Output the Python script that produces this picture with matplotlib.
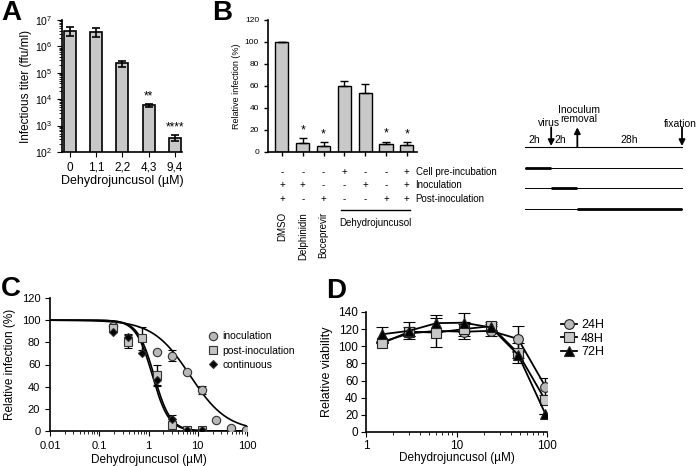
import matplotlib
matplotlib.use("Agg")
import matplotlib.pyplot as plt
import numpy as np
from matplotlib.ticker import LogLocator, NullFormatter
from matplotlib.lines import Line2D

plt.rcParams['font.family'] = ['Liberation Sans', 'DejaVu Sans']
plt.rcParams['axes.linewidth'] = 1.2
plt.rcParams['xtick.direction'] = 'out'
plt.rcParams['ytick.direction'] = 'out'

# ---- panel A : infectious titer
a_labels = ['0', '1,1', '2,2', '4,3', '9,4']
a_titer = [4.0e6, 3.5e6, 2.3e5, 5.8e3, 350]
a_err = [1.5e6, 1.3e6, 6.0e4, 9.0e2, 100]
a_stars = ['', '', '', '**', '****']

# ---- panel B : relative infection
b_names = ['DMSO', 'Delphinidin', 'Boceprevir', '', '', '', '']
b_vals = [100, 8, 5.5, 60, 53.5, 7, 6.5]
b_err = [0, 4.5, 3.5, 4.5, 8.5, 2.5, 2.5]
b_stars = ['', '*', '*', '', '', '*', '*']
b_pre = ['-', '-', '-', '+', '-', '-', '+']
b_inoc = ['+', '+', '-', '-', '+', '-', '+']
b_post = ['+', '-', '+', '-', '-', '+', '+']
b_rows = ['Cell pre-incubation', 'Inoculation', 'Post-inoculation']

# timeline (schematic positions, not to scale)
t_marks = [0, 1, 2, 6]
t_hours = ['2h', '2h', '28h']

# ---- panel C : dose response
c_conc = [0.19, 0.375, 0.75, 1.5, 3, 6, 12, 24, 48, 96]
c_inoc = [95, None, None, 71, 68, 53.5, 37, 10, 2.4, 1]
c_inoc_err = [0, 0, 0, 0, 5, 0, 4, 0, 0, 0]
c_post = [93, 80.5, 83.5, 50.5, 5.5, 1, 1, None, None, None]
c_post_err = [0, 6, 10, 9, 3, 0, 0, 0, 0, 0]
c_cont = [89.5, 84.5, 70.5, 46, 10.5, 1, 1, None, None, None]
c_cont_err = [0, 3, 0, 5, 4, 0, 0, 0, 0, 0]
# fitted curves (IC50, hill slope)
c_fit = {'inoculation': (7.0, 1.15), 'post-inoculation': (1.3, 2.6), 'continuous': (1.2, 2.6)}

# ---- panel D : viability
d_conc = [1.5, 3, 6, 12, 24, 48, 96]
d_24 = [105, 115, 118, 117, 118, 108.5, 53]
d_24_err = [0, 3, 0, 9, 6, 15, 10]
d_48 = [103.5, 117, 116, 120, 123.5, 92, 37]
d_48_err = [0, 5, 17, 8, 5, 12, 0]
d_72 = [114, 118, 127, 127.5, 122, 90, 21]
d_72_err = [8, 10, 10, 11, 4, 4, 0]

W, H = 696, 466
fig = plt.figure(figsize=(W / 100, H / 100), dpi=100)

def box(x0, y0, x1, y1):
    return [x0 / W, 1 - y1 / H, (x1 - x0) / W, (y1 - y0) / H]

grey = '#c8c8c8'

# ================= A
ax = fig.add_axes(box(62, 20, 182, 152))
xa = np.arange(len(a_titer))
ax.bar(xa, a_titer, width=0.45, color=grey, edgecolor='black', linewidth=1.2)
ax.errorbar(xa, a_titer, yerr=a_err, fmt='none', ecolor='black', elinewidth=1.2, capsize=3, capthick=1.2)
for i in range(len(a_titer)):
    if a_stars[i]:
        ax.text(xa[i], (a_titer[i] + a_err[i]) * 1.15, a_stars[i], ha='center', va='bottom', fontsize=8.5)
ax.set_yscale('log')
ax.set_ylim(1e2, 1e7)
ax.set_xlim(-0.3, 4.27)
ax.set_xticks(xa)
ax.set_xticklabels(a_labels, fontsize=8.5)
ax.tick_params(axis='y', labelsize=7.5)
ax.yaxis.set_minor_locator(LogLocator(subs=np.arange(2, 10)))
ax.set_ylabel('Infectious titer (ffu/ml)', fontsize=8.5, labelpad=2)
ax.set_xlabel('Dehydrojuncusol (µM)', fontsize=9, labelpad=1)
ax.spines['top'].set_visible(False)
ax.spines['right'].set_visible(False)
fig.text(1 / W, 1 - 0 / H, 'A', fontsize=20, fontweight='bold', va='top')

# ================= B
ax = fig.add_axes(box(268, 20, 417, 152))
xb = np.arange(len(b_vals))
ax.bar(xb, b_vals, width=0.63, color=grey, edgecolor='black', linewidth=1.0)
ax.errorbar(xb, b_vals, yerr=[np.zeros(len(b_err)), b_err], fmt='none', ecolor='black',
            elinewidth=1.0, capsize=3, capthick=1.0)
for i in range(len(b_vals)):
    if b_stars[i]:
        ax.text(xb[i], b_vals[i] + b_err[i] + 1.5, b_stars[i], ha='center', va='bottom', fontsize=9)
ax.set_ylim(0, 120)
ax.set_xlim(-0.67, 6.49)
ax.set_yticks(range(0, 121, 20))
ax.set_xticks(xb)
ax.set_xticklabels([])
ax.tick_params(labelsize=6, width=1.0, length=3)
ax.set_ylabel('Relative infection (%)', fontsize=6.5, labelpad=3)
ax.spines['top'].set_visible(False)
ax.spines['right'].set_visible(False)
tr = ax.get_xaxis_transform()
for row, ry in zip([b_pre, b_inoc, b_post], [-0.152, -0.25, -0.356]):
    for i, s in enumerate(row):
        ax.text(xb[i], ry, s, transform=tr, ha='center', va='center', fontsize=7)
for lab, ry in zip(b_rows, [-0.152, -0.25, -0.356]):
    ax.text(0.99, ry, lab, transform=ax.transAxes, ha='left', va='center', fontsize=7)
for i, n in enumerate(b_names):
    if n:
        ax.text(xb[i], -0.455, n, transform=tr, rotation=90, ha='center', va='top', fontsize=7)
ax.plot([xb[3] - 0.15, xb[6] + 0.15], [-0.44, -0.44], transform=tr, color='black', lw=1.0, clip_on=False)
ax.text((xb[3] + xb[6]) / 2, -0.54, 'Dehydrojuncusol', transform=tr, ha='center', va='center', fontsize=7)
fig.text(212 / W, 1 - 0 / H, 'B', fontsize=20, fontweight='bold', va='top')

# timeline
ax = fig.add_axes(box(525, 147, 682, 209))
ax.set_xlim(t_marks[0], t_marks[-1])
ax.set_ylim(-3, 0)
ax.axis('off')
ax.plot([t_marks[0], t_marks[-1]], [0, 0], color='black', lw=0.8, clip_on=False)
for k in range(3):
    ax.plot([t_marks[0], t_marks[-1]], [-1 - k, -1 - k], color='black', lw=0.7, clip_on=False)
    ax.plot([t_marks[k], t_marks[k + 1]], [-1 - k, -1 - k], color='black', lw=2.0,
            solid_capstyle='butt', clip_on=False)
    ax.text((t_marks[k] + t_marks[k + 1]) / 2 - (0.15 if k < 2 else 0), 0.32, t_hours[k],
            ha='center', va='center', fontsize=7.5)
arr = dict(arrowstyle='-|>,head_width=0.18,head_length=0.35', color='black', lw=1.3, shrinkA=0, shrinkB=0)
ax.annotate('', xy=(t_marks[1], 0.05), xytext=(t_marks[1], 0.95), arrowprops=arr, annotation_clip=False)
ax.annotate('', xy=(t_marks[2], 0.95), xytext=(t_marks[2], 0.0), arrowprops=arr, annotation_clip=False)
ax.annotate('', xy=(t_marks[3], 0.05), xytext=(t_marks[3], 0.95), arrowprops=arr, annotation_clip=False)
ax.text(t_marks[1] - 0.1, 1.17, 'virus', ha='center', va='center', fontsize=7.5)
ax.text(t_marks[2] + 0.05, 1.58, 'Inoculum\nremoval', ha='center', va='center', fontsize=7.5, linespacing=0.85)
ax.text(t_marks[3] - 0.05, 1.12, 'fixation', ha='center', va='center', fontsize=7.5)

# ================= C
ax = fig.add_axes(box(50, 298, 247, 431))
xs = np.logspace(-2, 2, 300)
styles = [('inoculation', c_inoc, c_inoc_err, 'o', 6, '#b8b8b8'),
          ('post-inoculation', c_post, c_post_err, 's', 6, '#c4c4c4'),
          ('continuous', c_cont, c_cont_err, 'D', 4, 'black')]
handles = []
for name, vals, errs, mk, ms, fc in styles:
    ic50, h = c_fit[name]
    ax.plot(xs, 100 / (1 + (xs / ic50) ** h), color='black', lw=1.2)
    xx = [c for c, v in zip(c_conc, vals) if v is not None]
    yy = [v for v in vals if v is not None]
    ee = [e for e, v in zip(errs, vals) if v is not None]
    ax.errorbar(xx, yy, yerr=ee, fmt=mk, ms=ms, mfc=fc, mec='#333333', mew=0.8,
                ecolor='black', elinewidth=1.0, capsize=3, zorder=3)
    handles.append(Line2D([], [], ls='none', marker=mk, ms=ms, mfc=fc, mec='#333333', mew=0.8, label=name))
ax.set_xscale('log')
ax.set_xlim(0.01, 100)
ax.set_ylim(0, 120)
ax.set_yticks(range(0, 121, 20))
ax.set_xticks([0.01, 0.1, 1, 10, 100])
ax.set_xticklabels(['0.01', '0.1', '1', '10', '100'])
ax.xaxis.set_minor_locator(LogLocator(subs=np.arange(2, 10)))
ax.xaxis.set_minor_formatter(NullFormatter())
ax.tick_params(labelsize=8)
ax.set_ylabel('Relative infection (%)', fontsize=8.5)
ax.set_xlabel('Dehydrojuncusol (µM)', fontsize=8.5, labelpad=2)
ax.spines['top'].set_visible(False)
ax.spines['right'].set_visible(False)
ax.legend(handles=handles, loc='upper left', bbox_to_anchor=(0.78, 0.78), frameon=False, fontsize=7.5,
          handletextpad=0.4, labelspacing=0.4, handlelength=1.0, borderaxespad=0)
fig.text(1 / W, 1 - 276 / H, 'C', fontsize=20, fontweight='bold', va='top')

# ================= D
ax = fig.add_axes(box(366, 312, 547, 432))
handles = []
for name, vals, errs, mk, fc in [('24H', d_24, d_24_err, 'o', '#b8b8b8'),
                                  ('48H', d_48, d_48_err, 's', '#c8c8c8'),
                                  ('72H', d_72, d_72_err, '^', 'black')]:
    ax.errorbar(d_conc, vals, yerr=errs, fmt='-' + mk, color='black', ms=7, mfc=fc, mec='#222222',
                mew=0.8, lw=1.3, elinewidth=1.0, capsize=4)
    handles.append(Line2D([], [], color='black', lw=1.3, marker=mk, ms=7, mfc=fc, mec='#222222',
                          mew=0.8, label=name))
ax.set_xscale('log')
ax.set_xlim(1, 100)
ax.set_ylim(0, 140)
ax.set_yticks(range(0, 141, 20))
ax.set_xticks([1, 10, 100])
ax.set_xticklabels(['1', '10', '100'])
ax.xaxis.set_minor_locator(LogLocator(subs=np.arange(2, 10)))
ax.xaxis.set_minor_formatter(NullFormatter())
ax.tick_params(labelsize=8.5, pad=2)
ax.set_ylabel('Relative viability', fontsize=9)
ax.set_xlabel('Dehydrojuncusol (µM)', fontsize=8.5, labelpad=0)
ax.spines['top'].set_visible(False)
ax.spines['right'].set_visible(False)
ax.legend(handles=handles, loc='upper left', bbox_to_anchor=(1.05, 0.98), frameon=False, fontsize=9,
          handletextpad=0.3, labelspacing=0.1, handlelength=1.3, borderaxespad=0)
fig.text(326 / W, 1 - 278 / H, 'D', fontsize=20, fontweight='bold', va='top')

fig.savefig('out.png', dpi=100)
